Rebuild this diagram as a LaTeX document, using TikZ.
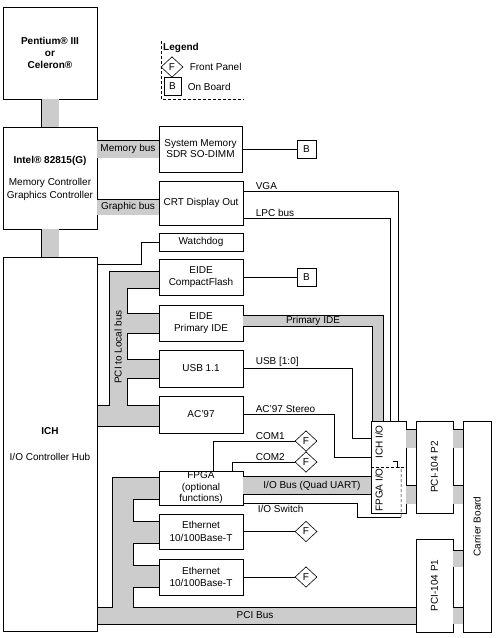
\documentclass[tikz,border=0pt]{standalone}
\usepackage{fontspec}
\setmainfont{Liberation Sans}
\usepackage{tikz}
\usepackage{xcolor}
\usetikzlibrary{shapes.geometric}
\definecolor{busgray}{HTML}{CCCCCC}

\begin{document}
\begin{tikzpicture}[x=1pt,y=-1pt,line width=0.6pt,
  font=\fontsize{10}{12.5}\selectfont,
  box/.style={draw,fill=white,inner sep=0.5pt,align=center},
  onboard/.style={draw,fill=white,minimum width=19pt,minimum height=18pt,inner sep=0pt},
  panel/.style={draw,fill=white,diamond,aspect=1,minimum width=22pt,minimum height=20.5pt,inner sep=0pt},
  bus/.style={double=busgray,double distance=17pt,line width=0.6pt},
  lbl/.style={inner sep=1.5pt}]
\useasboundingbox (0,0) rectangle (497,638);
\fill[white] (0,0) rectangle (497,638);
\draw[fill=busgray] (97,405) -- (109,405) -- (109,271) -- (159,271) -- (159,288) -- (127,288) -- (127,313) -- (159,313) -- (159,333) -- (127,333) -- (127,359) -- (159,359) -- (159,378) -- (127,378) -- (127,405) -- (159,405) -- (159,426) -- (97,426) -- cycle;
\draw[fill=busgray] (97,607) -- (112,607) -- (112,477) -- (159,477) -- (159,499) -- (133,499) -- (133,521) -- (159,521) -- (159,543) -- (133,543) -- (133,565) -- (159,565) -- (159,587) -- (133,587) -- (133,607) -- (416,607) -- (416,624) -- (97,624) -- cycle;
\node[lbl,rotate=90] (pcilocal) at (118,347) {PCI to Local bus};
\node[lbl] (pcibus) at (255,615.5) {PCI Bus};

\node[box,minimum width=94pt,minimum height=92pt,font=\fontsize{10}{12}\selectfont\bfseries] (cpu) at (50,53) {Pentium® III\\or\\Celeron®};
\node[box,minimum width=94pt,minimum height=102pt] (gmch) at (50,178) {\textbf{Intel® 82815(G)}\\[10pt]Memory Controller\\Graphics Controller};
\node[box,minimum width=94pt,minimum height=374pt] (ich) at (50,444) {\textbf{ICH}\\[13.5pt]I/O Controller Hub};

\node[box,minimum width=83pt,minimum height=46pt] (sysmem) at (200.5,149) {System Memory\\[-1.5pt]SDR SO-DIMM};
\node[box,minimum width=84pt,minimum height=44pt] (crt) at (201,203) {CRT Display Out};
\node[box,minimum width=84pt,minimum height=18pt] (wdog) at (201,242) {Watchdog};
\node[box,minimum width=84pt,minimum height=36pt] (cf) at (201,277) {EIDE\\CompactFlash};
\node[box,minimum width=84pt,minimum height=36pt] (pide) at (201,323) {EIDE\\Primary IDE};
\node[box,minimum width=84pt,minimum height=37pt] (usb) at (201,368.5) {USB 1.1};
\node[box,minimum width=84pt,minimum height=37pt] (ac97) at (201,414.5) {AC'97};
\node[box,minimum width=84pt,minimum height=34pt,font=\fontsize{10}{11.5}\selectfont] (fpga) at (201,488) {FPGA\\(optional\\functions)};
\node[box,minimum width=84pt,minimum height=35pt] (eth1) at (201,531.5) {Ethernet\\10/100Base-T};
\node[box,minimum width=84pt,minimum height=36pt] (eth2) at (201,577) {Ethernet\\10/100Base-T};

\node[box,minimum width=35pt,minimum height=92pt] (ichio) at (388.5,467) {};
\node[lbl,rotate=90] (ichiolbl) at (379,442) {ICH I/O};
\node[lbl,rotate=90] (fpgaiolbl) at (379,490) {FPGA I/O};
\node[box,minimum width=37pt,minimum height=92pt] (p2) at (434.5,467) {\rotatebox{90}{PCI-104 P2}};
\node[box,minimum width=37pt,minimum height=93pt] (p1) at (434.5,585.5) {\rotatebox{90}{PCI-104 P1}};
\node[box,minimum width=28pt,minimum height=211pt] (carrier) at (477,526.5) {\rotatebox{90}{Carrier Board}};

\node[onboard] (bsys) at (306.5,149) {B};
\node[onboard] (bcf) at (306.5,277) {B};
\node[panel] (fcom1) at (306,441) {F};
\node[panel] (fcom2) at (306,462) {F};
\node[panel] (feth1) at (306,531.5) {F};
\node[panel] (feth2) at (306,577) {F};

\draw[densely dashed] (161,41) |- (244,99);
\node[lbl,font=\fontsize{10}{12}\selectfont\bfseries] (legend) at (181,48) {Legend};
\node[panel] (legf) at (172,67) {F};
\node[onboard,minimum width=17pt] (legb) at (172.5,86.5) {B};
\node[lbl,anchor=west] (legftxt) at (188,67) {Front Panel};
\node[lbl,anchor=west] (legbtxt) at (186,86.5) {On Board};

\draw[bus] (cpu) -- (gmch);
\draw[bus] (gmch) -- (ich);
\draw[bus] (sysmem.west) -- (sysmem.west -| gmch.east) node[lbl,midway] (membus) {Memory bus};
\draw[bus,double distance=15pt] ([yshift=-4pt]crt.west) -- ([yshift=-4pt]crt.west -| gmch.east) node[lbl,midway] (gfxbus) {Graphic bus};
\draw[bus,double distance=10.5pt] ([yshift=2pt]pide.east) -| ([xshift=-10.5pt]ichio.north);
\node[lbl] (idelbl) at (313,321) {Primary IDE};
\draw[bus] ([yshift=2.5pt]fpga.east) -- ([yshift=2.5pt]fpga.east -| ichio.west);
\node[lbl] (iobus) at (312,485.5) {I/O Bus (Quad UART)};
\draw[bus,double distance=18pt] ([yshift=28.5pt]ichio.east) -- ([yshift=28.5pt]p2.west);
\draw[bus,double distance=18pt] ([yshift=-27.5pt]ichio.east) -- ([yshift=-27.5pt]p2.west);
\draw[bus,double distance=18pt] ([yshift=28.5pt]p2.east) -- ([yshift=28.5pt]p2.east -| carrier.west);
\draw[bus,double distance=18pt] ([yshift=-27.5pt]p2.east) -- ([yshift=-27.5pt]p2.east -| carrier.west);
\draw[bus,double distance=16pt] ([yshift=27pt]p1.east) -- ([yshift=27pt]p1.east -| carrier.west);
\draw[bus,double distance=16pt] ([yshift=-30pt]p1.east) -- ([yshift=-30pt]p1.east -| carrier.west);

\draw (sysmem) -- (bsys);
\draw (cf) -- (bcf);
\draw ([yshift=12pt]crt.east) -| ([xshift=9.5pt]ichio.north);
\node[lbl,anchor=south west] (vgalbl) at (254,191) {VGA};
\draw ([yshift=-15pt]crt.east) -| ([xshift=1.5pt]ichio.north);
\node[lbl,anchor=south west] (lpclbl) at (254,218) {LPC bus};
\coordinate (wdturn) at (141,264);
\draw (wdog.west) -| (wdturn) -- (wdturn -| ich.east);
\coordinate (usbturn) at (352,438);
\draw (usb.east) -| (usbturn) -- (usbturn -| ichio.west);
\node[lbl,anchor=south west] (usblbl) at (254,368.5) {USB [1:0]};
\coordinate (acturn) at (334,457);
\draw (ac97.east) -| (acturn) -- (acturn -| ichio.west);
\node[lbl,anchor=south west] (aclbl) at (254,414.5) {AC'97 Stereo};
\coordinate (com1turn) at (213,441);
\draw (com1turn |- fpga.north) -- (com1turn) -- (fcom1);
\node[lbl,anchor=south west] (com1lbl) at (254,441) {COM1};
\coordinate (com2turn) at (232,462);
\draw (com2turn |- fpga.north) -- (com2turn) -- (fcom2);
\node[lbl,anchor=south west] (com2lbl) at (254,462) {COM2};
\coordinate (swturn) at (357,517);
\coordinate (swpin) at (401,517);
\draw ([yshift=-15pt]fpga.east) -| (swturn) -- (swpin);
\node[lbl,anchor=north west] (swlbl) at (256,503) {I/O Switch};
\draw[densely dashed,line width=0.5pt] (ichio.west) -- (ichio.east);
\draw[densely dashed,line width=0.5pt] (swpin) -- (401,468) -- (397,467);
\draw[line width=0.5pt] (393,461) -- (397,461) -- (397,467);
\draw (eth1) -- (feth1);
\draw (eth2) -- (feth2);
\end{tikzpicture}
\end{document}
